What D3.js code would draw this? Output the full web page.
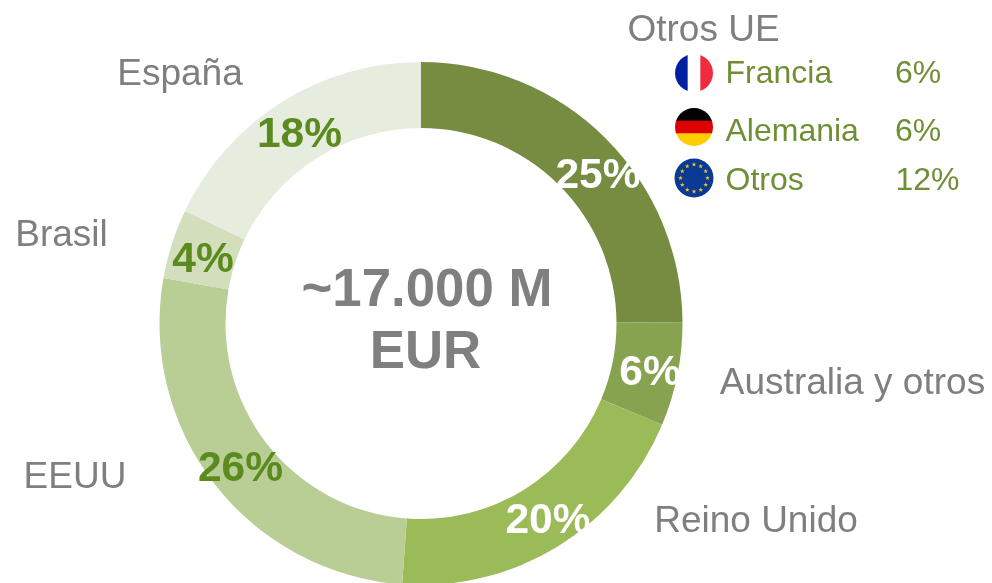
<!DOCTYPE html>
<html><head><meta charset="utf-8">
<script src="https://cdn.jsdelivr.net/npm/d3@7"></script>
<style>html,body{margin:0;padding:0;background:#fff}svg{display:block;opacity:.999;will-change:opacity}text{font-family:"Liberation Sans",Arial,sans-serif}</style>
</head><body><svg id="c" width="992" height="583"></svg>
<script>
const categories=["Otros UE","Australia y otros","Reino Unido","EEUU","Brasil","España"];
const shares=[24.9,6.4,19.8,26.6,4.3,17.9];
const labels=[25,6,20,26,4,18];
const sliceColors=["#758C41","#87A34F","#9BBB59","#B9CE95","#D3DEBC","#E6ECDE"];
const pctColors=["#fff","#fff","#fff","#5B8A1E","#5B8A1E","#5B8A1E"];
const pctPos=[[598,173],[650,370],[548,518],[240.5,466],[203,257],[299.5,132]];
const catPos=[[703.5,28],[852.5,381],[756,519],[75,475],[61.5,233],[180,72]];
const legendNames=["Francia","Alemania","Otros"];
const legendValues=[6,6,12];
const legendY=[72,129.5,179];
const flagY=[73,127,178];
const centerLines=["~17.000 M","EUR"];

const svg=d3.select("#c");
const cx=421,cy=323.5,R=261.5,r=195.5;
const pie=d3.pie().sort(null).value(d=>d);
const arc=d3.arc().innerRadius(r).outerRadius(R);
const g=svg.append("g").attr("transform",`translate(${cx},${cy})`);
g.selectAll("path").data(pie(shares)).join("path").attr("d",arc).attr("fill",(d,i)=>sliceColors[i]);

svg.selectAll("text.cat").data(categories).join("text").attr("class","cat")
 .attr("x",(d,i)=>catPos[i][0]).attr("y",(d,i)=>catPos[i][1]).attr("dy","0.35em")
 .attr("text-anchor","middle").attr("font-size",37).attr("fill","#7F7F7F").text(d=>d);
svg.selectAll("text.pct").data(labels).join("text").attr("class","pct")
 .attr("x",(d,i)=>pctPos[i][0]).attr("y",(d,i)=>pctPos[i][1]).attr("dy","0.35em")
 .attr("text-anchor","middle").attr("font-size",42.5).attr("font-weight","bold")
 .attr("fill",(d,i)=>pctColors[i]).text(d=>d+"%");
svg.selectAll("text.center").data(centerLines).join("text").attr("class","center")
 .attr("x",(d,i)=>i?425.5:427).attr("y",(d,i)=>288+i*62).attr("dy","0.35em")
 .attr("text-anchor","middle").attr("font-size",52.8).attr("font-weight","bold")
 .attr("fill","#7F7F7F").text(d=>d);

const legGreen="#6F8F35";
svg.selectAll("text.ln").data(legendNames).join("text").attr("class","ln")
 .attr("x",725.5).attr("y",(d,i)=>legendY[i]).attr("dy","0.35em").attr("font-size",32).attr("fill",legGreen).text(d=>d);
svg.selectAll("text.lv").data(legendValues).join("text").attr("class","lv")
 .attr("x",(d,i)=>d>9?895.5:895).attr("y",(d,i)=>legendY[i]).attr("dy","0.35em").attr("font-size",32).attr("fill",legGreen).text(d=>d+"%");

const fx=694,fr=19;
const defs=svg.append("defs");
flagY.forEach((y,i)=>defs.append("clipPath").attr("id","f"+i).append("circle").attr("cx",fx).attr("cy",y).attr("r",fr));
const fr1=svg.append("g").attr("clip-path","url(#f0)");
["#00209F","#fff","#EF2B3D"].forEach((c,i)=>fr1.append("rect").attr("x",fx-fr+i*fr*2/3).attr("y",flagY[0]-fr).attr("width",fr*2/3+.5).attr("height",fr*2).attr("fill",c));
const de=svg.append("g").attr("clip-path","url(#f1)");
["#000","#DD0000","#FFCE00"].forEach((c,i)=>de.append("rect").attr("x",fx-fr).attr("y",flagY[1]-fr+i*fr*2/3).attr("width",fr*2).attr("height",fr*2/3+.5).attr("fill",c));
const eu=svg.append("g");
const ey=flagY[2];
eu.append("circle").attr("cx",fx).attr("cy",ey).attr("r",fr+.5).attr("fill","#0A3A94");
const star=d3.symbol().type(d3.symbolStar).size(7);
d3.range(12).forEach(i=>{const a=i*Math.PI/6;
 eu.append("path").attr("d",star).attr("fill","#F7C81E").attr("transform",`translate(${fx+13.5*Math.sin(a)},${ey-13.5*Math.cos(a)})`);});
</script></body></html>
